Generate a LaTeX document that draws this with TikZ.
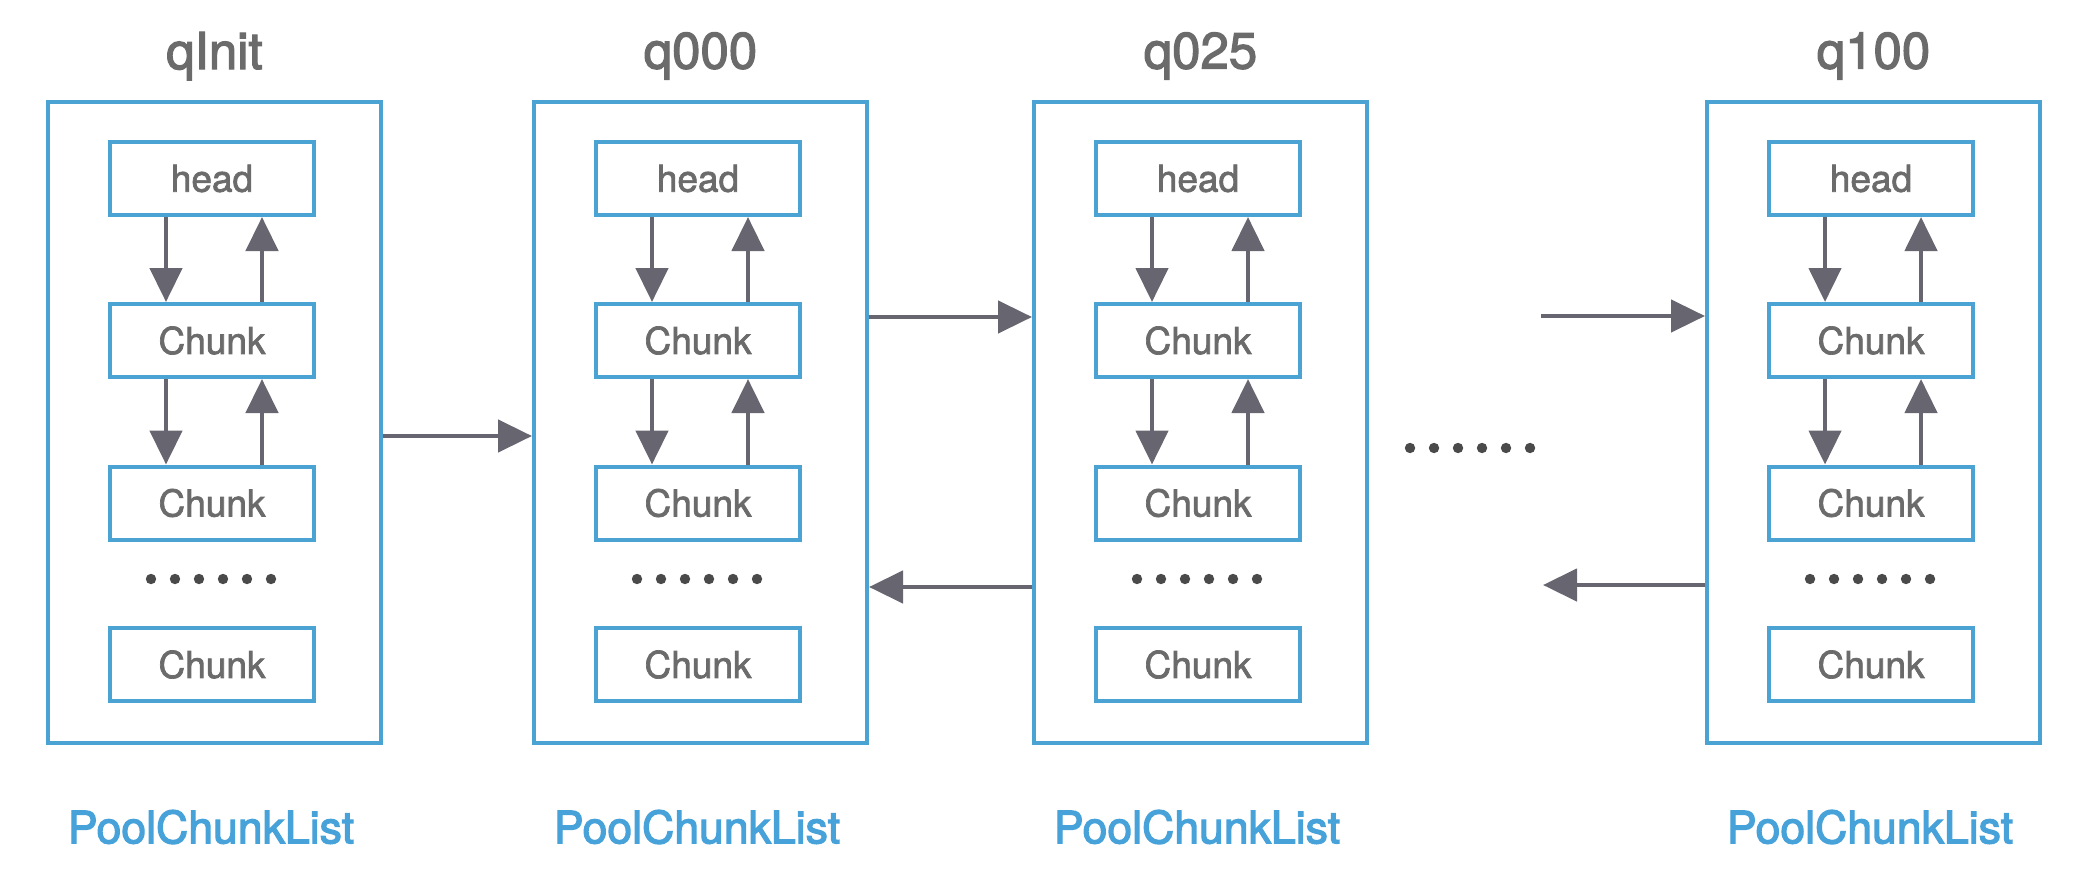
\documentclass[tikz,border=0pt]{standalone}
\usepackage{fontspec}
\setmainfont{TeX Gyre Heros}
\newcommand{\heavytext}[2]{\special{pdf:literal direct 2 Tr #1 w}#2\special{pdf:literal direct 0 Tr}}
\usetikzlibrary{arrows.meta,calc}
\definecolor{boxblue}{HTML}{4BA3D3}
\definecolor{arrgray}{HTML}{67656F}
\definecolor{txtgray}{HTML}{6B6B6B}
\definecolor{dotgray}{HTML}{4A4A4A}
\definecolor{lblblue}{HTML}{47A2DA}
\begin{document}
\begin{tikzpicture}[x=0.5pt,y=-0.5pt,
 outerbox/.style={draw=boxblue,line width=2pt,minimum width=166.5pt,minimum height=320.5pt,inner sep=0pt},
 innerbox/.style={draw=boxblue,line width=2pt,minimum width=102pt,minimum height=36.5pt,inner sep=0pt,text=txtgray,font=\fontsize{18.5}{20}\selectfont},
 titlelbl/.style={text=txtgray,font=\fontsize{25.5}{28}\selectfont},
 listlabel/.style={text=lblblue,font=\fontsize{22.3}{24}\selectfont},
 arr/.style={draw=arrgray,line width=2.3pt,-{Triangle[length=17pt,width=16pt]}},
 dotmark/.style={circle,fill=dotgray,minimum size=5.2pt,inner sep=0pt}]
\useasboundingbox (0,0) rectangle (2080,882);
\foreach \i/\x/\t in {1/48/qInit,2/534/q000,3/1034/q025,4/1707/q100}{
  \node[outerbox] (o\i) at (\x+166.5,422.5) {};
  \node[titlelbl] (t\i) at (\x+166.5,56) {\heavytext{0.6}{\t}};
  \node[listlabel] (l\i) at (\x+163,827) {\heavytext{0.6}{PoolChunkList}};
  \node[innerbox] (h\i) at (\x+164,178.5) {\heavytext{0.35}{head}};
  \node[innerbox] (ca\i) at (\x+164,340.5) {\heavytext{0.35}{Chunk}};
  \node[innerbox] (cb\i) at (\x+164,503) {\heavytext{0.35}{Chunk}};
  \node[innerbox] (cc\i) at (\x+164,664.5) {\heavytext{0.35}{Chunk}};
  \foreach \k in {0,...,5}{
    \node[dotmark] (d\i\k) at (\x+103+24*\k,579) {};
  }
  \draw[arr] ([xshift=-23pt]h\i.south) -- ([xshift=-23pt]ca\i.north);
  \draw[arr] ([xshift=25pt]ca\i.north) -- ([xshift=25pt]h\i.south);
  \draw[arr] ([xshift=-23pt]ca\i.south) -- ([xshift=-23pt]cb\i.north);
  \draw[arr] ([xshift=25pt]cb\i.north) -- ([xshift=25pt]ca\i.south);
}
\draw[arr] ([yshift=-6.75pt]o1.east) -- ([yshift=-6.75pt]o2.west);
\draw[arr] ([yshift=52.75pt]o2.east) -- ([yshift=52.75pt]o3.west);
\draw[arr] ([yshift=-82.25pt]o3.west) -- ([yshift=-82.25pt]o2.east);
\coordinate (in4) at (1541,316);
\coordinate (out4) at (1543,585);
\draw[arr] (in4) -- (o4.west |- in4);
\draw[arr] (o4.west |- out4) -- (out4);
\foreach \k in {0,...,5}{
  \node[dotmark] (m\k) at (1410+24*\k,448) {};
}
\end{tikzpicture}
\end{document}
